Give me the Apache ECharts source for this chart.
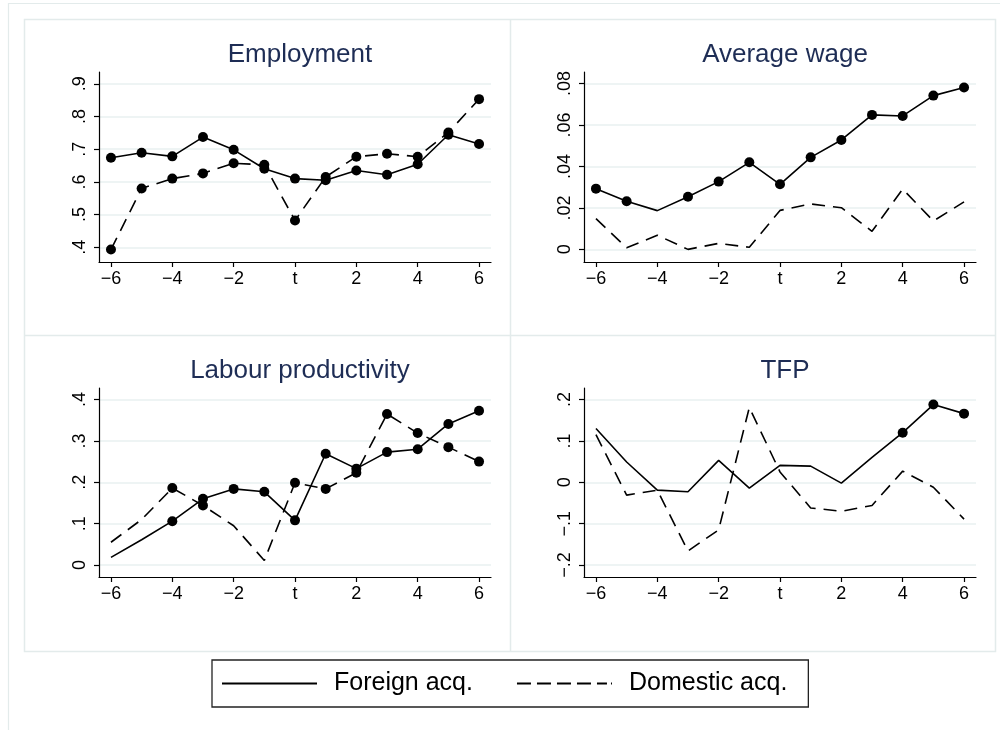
<!DOCTYPE html>
<html>
<head>
<meta charset="utf-8">
<script src="https://cdn.jsdelivr.net/npm/echarts@6/dist/echarts.min.js"></script>
<style>
  html, body { margin: 0; padding: 0; background: #fff; }
  #chart { width: 1000px; height: 730px; }
</style>
</head>
<body>
<div id="chart"></div>
<script>
// event time, t = 0
const years = [-6, -5, -4, -3, -2, -1, 0, 1, 2, 3, 4, 5, 6]

const xTicks = [-6, -4, -2, 0, 2, 4, 6]
const xTickLabels = ['\u22126', '\u22124', '\u22122', 't', '2', '4', '6']

// Employment
const empForeign = [0.674, 0.689, 0.678, 0.737, 0.698, 0.640, 0.610, 0.605, 0.635, 0.622, 0.654, 0.744, 0.716]
const empDomestic = [0.393, 0.580, 0.610, 0.626, 0.657, 0.652, 0.482, 0.615, 0.677, 0.686, 0.677, 0.751, 0.853]
const empForeignSig = [1, 1, 1, 1, 1, 1, 1, 1, 1, 1, 1, 1, 1]
const empDomesticSig = [1, 1, 1, 1, 1, 1, 1, 1, 1, 1, 1, 1, 1]
const empTicks = [0.4, 0.5, 0.6, 0.7, 0.8, 0.9]
const empTickLabels = ['.4', '.5', '.6', '.7', '.8', '.9']

// Average wage
const wageForeign = [0.0293, 0.0232, 0.0187, 0.0254, 0.0327, 0.0420, 0.0314, 0.0444, 0.0528, 0.0649, 0.0644, 0.0742, 0.0781]
const wageDomestic = [0.0148, 0.0008, 0.0068, 0.0000, 0.0029, 0.0010, 0.0188, 0.0219, 0.0201, 0.0087, 0.0291, 0.0137, 0.0229]
const wageForeignSig = [1, 1, 0, 1, 1, 1, 1, 1, 1, 1, 1, 1, 1]
const wageDomesticSig = [0, 0, 0, 0, 0, 0, 0, 0, 0, 0, 0, 0, 0]
const wageTicks = [0, 0.02, 0.04, 0.06, 0.08]
const wageTickLabels = ['0', '.02', '.04', '.06', '.08']

// Labour productivity
const prodForeign = [0.0185, 0.061, 0.106, 0.160, 0.184, 0.177, 0.108, 0.269, 0.233, 0.273, 0.280, 0.341, 0.373]
const prodDomestic = [0.055, 0.11, 0.186, 0.144, 0.095, 0.011, 0.199, 0.184, 0.223, 0.365, 0.319, 0.285, 0.250]
const prodForeignSig = [0, 0, 1, 1, 1, 1, 1, 1, 1, 1, 1, 1, 1]
const prodDomesticSig = [0, 0, 1, 1, 0, 0, 1, 1, 1, 1, 1, 1, 1]
const prodTicks = [0, 0.1, 0.2, 0.3, 0.4]
const prodTickLabels = ['0', '.1', '.2', '.3', '.4']

// TFP
const tfpForeign = [0.130, 0.049, -0.019, -0.023, 0.053, -0.014, 0.041, 0.039, -0.002, 0.060, 0.120, 0.188, 0.166]
const tfpDomestic = [0.115, -0.031, -0.019, -0.166, -0.115, 0.181, 0.025, -0.062, -0.070, -0.056, 0.027, -0.012, -0.089]
const tfpForeignSig = [0, 0, 0, 0, 0, 0, 0, 0, 0, 0, 1, 1, 1]
const tfpDomesticSig = [0, 0, 0, 0, 0, 0, 0, 0, 0, 0, 0, 0, 0]
const tfpTicks = [-0.2, -0.1, 0, 0.1, 0.2]
const tfpTickLabels = ['\u2212.2', '\u2212.1', '0', '.1', '.2']

const FONT = '"Liberation Sans", Arial, sans-serif'
const GRID_COLOR = '#E8F0F1'
const FRAME_COLOR = '#E3EBEB'

const panels = [
  { title: 'Employment', foreign: empForeign, domestic: empDomestic, fSig: empForeignSig, dSig: empDomesticSig,
    ticks: empTicks, labels: empTickLabels, min: 0.355, max: 0.936, left: 99, top: 72, height: 190 },
  { title: 'Average wage', foreign: wageForeign, domestic: wageDomestic, fSig: wageForeignSig, dSig: wageDomesticSig,
    ticks: wageTicks, labels: wageTickLabels, min: -0.0061, max: 0.0856, left: 584, top: 72, height: 190 },
  { title: 'Labour productivity', foreign: prodForeign, domestic: prodDomestic, fSig: prodForeignSig, dSig: prodDomesticSig,
    ticks: prodTicks, labels: prodTickLabels, min: -0.029, max: 0.428, left: 99, top: 388, height: 189 },
  { title: 'TFP', foreign: tfpForeign, domestic: tfpDomestic, fSig: tfpForeignSig, dSig: tfpDomesticSig,
    ticks: tfpTicks, labels: tfpTickLabels, min: -0.229, max: 0.228, left: 584, top: 388, height: 189 }
]

function pickLabel (ticks, labels, v) {
  const i = ticks.findIndex(t => Math.abs(t - v) < 1e-9)
  return i < 0 ? '' : labels[i]
}

function toData (vals, sig) {
  return vals.map((v, i) => ({
    value: [years[i], v],
    symbol: sig[i] ? 'circle' : 'none'
  }))
}

const grid = [], xAxis = [], yAxis = [], series = [], title = []
panels.forEach((p, k) => {
  grid.push({ left: p.left, top: p.top, width: 392, height: p.height })
  title.push({
    text: p.title,
    left: p.left + 196,
    textAlign: 'center',
    top: p.top - 35,
    textStyle: { fontFamily: FONT, fontSize: 26, fontWeight: 'normal', color: '#1E2D55' }
  })
  xAxis.push({
    type: 'value', gridIndex: k, min: -6.39, max: 6.39,
    axisLine: { show: true, onZero: false, lineStyle: { color: '#000', width: 1.2 } },
    axisTick: { show: true, length: 5, customValues: xTicks, lineStyle: { color: '#000', width: 1.2 } },
    axisLabel: {
      customValues: xTicks, margin: 8, fontSize: 18, fontFamily: FONT, color: '#000',
      formatter: v => pickLabel(xTicks, xTickLabels, v)
    },
    splitLine: { show: false }
  })
  yAxis.push({
    type: 'value', gridIndex: k, min: p.min, max: p.max,
    axisLine: { show: true, onZero: false, lineStyle: { color: '#000', width: 1.2 } },
    axisTick: { show: true, length: 5, customValues: p.ticks, lineStyle: { color: '#000', width: 1.2 } },
    axisLabel: {
      customValues: p.ticks, rotate: 90, margin: 10, fontSize: 18, fontFamily: FONT, color: '#000',
      formatter: v => pickLabel(p.ticks, p.labels, v)
    },
    splitLine: { show: true, lineStyle: { color: GRID_COLOR, width: 1.5 } }
  })
  series.push({
    name: 'Foreign acq.', type: 'line', xAxisIndex: k, yAxisIndex: k,
    data: toData(p.foreign, p.fSig),
    symbolSize: 10, showAllSymbol: true,
    itemStyle: { color: '#000' },
    lineStyle: { color: '#000', width: 1.6 }
  })
  series.push({
    name: 'Domestic acq.', type: 'line', xAxisIndex: k, yAxisIndex: k,
    data: toData(p.domestic, p.dSig),
    symbolSize: 10, showAllSymbol: true,
    itemStyle: { color: '#000' },
    lineStyle: { color: '#000', width: 1.6, type: [13, 8] }
  })
})

const chart = echarts.init(document.getElementById('chart'), null, { renderer: 'canvas' })
chart.setOption({
  animation: false,
  backgroundColor: '#fff',
  title,
  grid,
  xAxis,
  yAxis,
  series,
  legend: {
    left: 212, top: 660,
    padding: [11, 21, 11, 10],
    itemGap: 44,
    itemWidth: 95,
    itemHeight: 2,
    borderColor: '#222',
    borderWidth: 1.3,
    selectedMode: false,
    textStyle: { fontFamily: FONT, fontSize: 25, color: '#000', padding: [0, 0, 0, 12] },
    data: [
      { name: 'Foreign acq.', icon: 'path://M0 0H95V2H0Z' },
      { name: 'Domestic acq.', icon: 'path://M0 0H14V2H0Z M20 0H34V2H20Z M40 0H54V2H40Z M60 0H74V2H60Z M80 0H90V2H80Z M94 0H95V2H94Z' }
    ]
  },
  graphic: [
    { type: 'rect', silent: true, shape: { x: 8.5, y: 3.5, width: 1000, height: 740 },
      style: { fill: 'none', stroke: FRAME_COLOR, lineWidth: 1.2 } },
    { type: 'rect', silent: true, shape: { x: 24.5, y: 19.5, width: 971, height: 632 },
      style: { fill: 'none', stroke: FRAME_COLOR, lineWidth: 1.5 } },
    { type: 'line', silent: true, shape: { x1: 510.5, y1: 19.5, x2: 510.5, y2: 651.5 },
      style: { stroke: FRAME_COLOR, lineWidth: 1.5 } },
    { type: 'line', silent: true, shape: { x1: 24.5, y1: 335.5, x2: 995.5, y2: 335.5 },
      style: { stroke: FRAME_COLOR, lineWidth: 1.5 } }
  ]
})
</script>
</body>
</html>
